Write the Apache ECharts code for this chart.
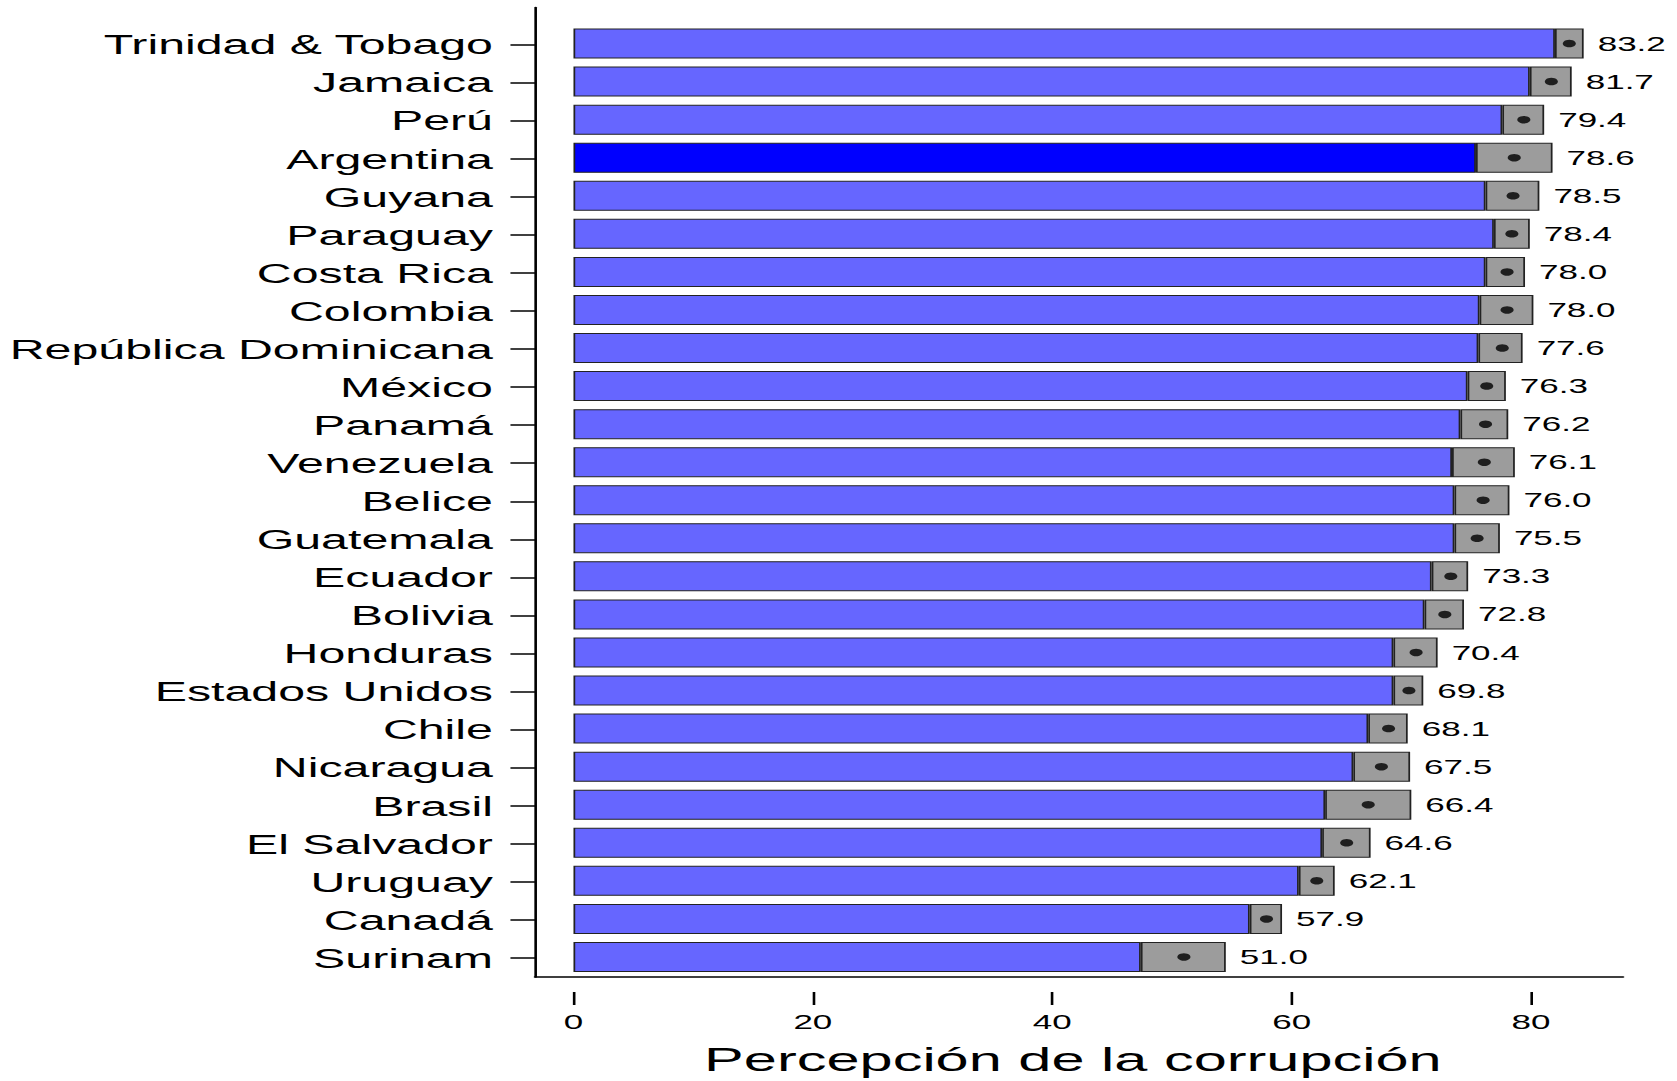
<!DOCTYPE html>
<html>
<head>
<meta charset="utf-8">
<script src="https://cdn.jsdelivr.net/npm/echarts@6/dist/echarts.min.js"></script>
<style>
  html, body { margin: 0; padding: 0; background: #fff; overflow: hidden; }
  #chart { width: 958px; height: 1081px; transform: scaleX(1.75052); transform-origin: 0 0; }
</style>
</head>
<body>
<div id="chart"></div>
<script>
const countries = ["Trinidad & Tobago","Jamaica","Perú","Argentina","Guyana","Paraguay","Costa Rica","Colombia","República Dominicana","México","Panamá","Venezuela","Belice","Guatemala","Ecuador","Bolivia","Honduras","Estados Unidos","Chile","Nicaragua","Brasil","El Salvador","Uruguay","Canadá","Surinam"];
const means = [83.2,81.7,79.4,78.6,78.5,78.4,78.0,78.0,77.6,76.3,76.2,76.1,76.0,75.5,73.3,72.8,70.4,69.8,68.1,67.5,66.4,64.6,62.1,57.9,51.0];
const lower = [82.0,79.9,77.6,75.4,76.2,76.9,76.2,75.7,75.6,74.7,74.1,73.4,73.6,73.6,71.7,71.1,68.5,68.5,66.4,65.15,62.8,62.55,60.6,56.5,47.4];
const upper = [84.4,83.4,81.1,81.8,80.7,79.9,79.5,80.2,79.3,77.9,78.1,78.65,78.2,77.4,74.75,74.4,72.2,71.0,69.7,69.9,70.0,66.6,63.6,59.2,54.5];
const highlighted = "Argentina";
const axisTitle = "Percepción de la corrupción";

const FONT = "'Liberation Sans', Arial, sans-serif";
const chart = echarts.init(document.getElementById('chart'), null, { renderer: 'svg' });

const blueData = lower.map((v, i) => ({
  value: v,
  itemStyle: { color: countries[i] === highlighted ? '#0000FF' : '#6666FF' }
}));
const greyData = upper.map((u, i) => +(u - lower[i]).toFixed(3));
const dotData = means.map((m, i) => [m, countries[i]]);

const option = {
  animation: false,
  backgroundColor: '#ffffff',
  grid: [
    { left: 327.6, width: 547, top: 24.5, height: 951.5 },   // data
    { left: 305.6, right: 30.8, top: 7.5, bottom: 89 },      // frame (L-shaped axes)
    { left: 305.6, width: 600, top: 25.5, height: 951.5 }    // category labels
  ],
  xAxis: [
    {
      type: 'value', gridIndex: 0, min: 0, max: 80, interval: 20, offset: 16,
      axisLine: { show: false },
      axisTick: { show: true, length: 13, lineStyle: { color: '#000', width: 1.5 } },
      axisLabel: { show: true, margin: 20, fontSize: 20, color: '#000', fontFamily: FONT },
      splitLine: { show: false }
    },
    {
      type: 'value', gridIndex: 1, min: 0, max: 1,
      axisLine: { show: true, onZero: false, lineStyle: { color: '#000', width: 1.5 } },
      axisTick: { show: false }, axisLabel: { show: false }, splitLine: { show: false },
      name: axisTitle, nameLocation: 'middle', nameGap: 65,
      nameTextStyle: { fontSize: 34, color: '#000', fontFamily: FONT, padding: [0, 7, 0, 0] }
    },
    {
      type: 'value', gridIndex: 2, show: false, min: 0, max: 1
    }
  ],
  yAxis: [
    {
      type: 'category', gridIndex: 0, data: countries, inverse: true,
      axisLine: { show: false }, axisTick: { show: false }, axisLabel: { show: false }
    },
    {
      type: 'value', gridIndex: 1, min: 0, max: 1,
      axisLine: { show: true, onZero: false, lineStyle: { color: '#000', width: 1.5 } },
      axisTick: { show: false }, axisLabel: { show: false }, splitLine: { show: false }
    },
    {
      type: 'category', gridIndex: 2, data: countries, inverse: true,
      axisLine: { show: false },
      axisTick: { show: true, length: 14, alignWithLabel: true, interval: 0, lineStyle: { color: '#000', width: 1.5 } },
      axisLabel: { interval: 0, margin: 24, fontSize: 27.6, color: '#000', fontFamily: FONT }
    }
  ],
  series: [
    {
      type: 'bar', xAxisIndex: 0, yAxisIndex: 0, stack: 'ci', barWidth: 30, clip: false,
      data: blueData,
      itemStyle: { borderColor: '#222', borderWidth: 1 }
    },
    {
      type: 'bar', xAxisIndex: 0, yAxisIndex: 0, stack: 'ci', barWidth: 30, clip: false,
      data: greyData,
      itemStyle: { color: '#9c9c9c', borderColor: '#222', borderWidth: 1 },
      label: {
        show: true, position: 'right', distance: 8,
        fontSize: 20, color: '#000', fontFamily: FONT,
        formatter: p => means[p.dataIndex].toFixed(1)
      }
    },
    {
      type: 'scatter', xAxisIndex: 0, yAxisIndex: 0, clip: false,
      data: dotData, symbol: 'circle', symbolSize: 7.5,
      itemStyle: { color: '#000' }, z: 5
    }
  ]
};
chart.setOption(option);
</script>
</body>
</html>
